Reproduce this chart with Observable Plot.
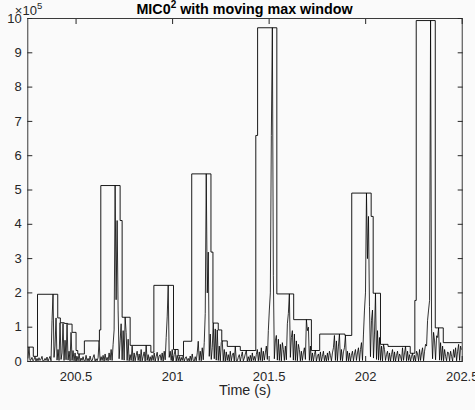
<!DOCTYPE html>
<html>
<head>
<meta charset="utf-8">
<script src="https://cdn.jsdelivr.net/npm/d3@7"></script>
<script src="https://cdn.jsdelivr.net/npm/@observablehq/plot@0.6"></script>
<style>
html, body { margin: 0; padding: 0; background: #fafafa; }
</style>
</head>
<body>
<div id="chart"></div>
<script>
// ---- texts ----
const titleMain = "MIC0";
const titleSup = "2";
const titleRest = " with moving max window";
const xLabel = "Time (s)";
const yExponentBase = "×10";
const yExponent = "5";

// ---- ticks ----
const xTicks = [200.5, 201, 201.5, 202, 202.5];
const yTicks = [0, 1, 2, 3, 4, 5, 6, 7, 8, 9, 10];

// ---- MIC0^2 samples (uniform sampling), values in units of 10^3 ----
const sampleStart = 200.251;
const sampleStep = 0.005187;
const micSquared = [
  10, 42, 3, 5, 12, 2, 6, 14, 1, 9,
  2, 11, 3, 7, 15, 1, 2, 9, 3, 13,
  1, 8, 15, 2, 120, 196, 12, 45, 127, 4,
  35, 3, 113, 6, 25, 111, 3, 62, 5, 109,
  4, 30, 2, 85, 3, 32, 2, 25, 1, 15,
  2, 22, 1, 10, 3, 14, 2, 1, 18, 2,
  9, 1, 16, 3, 2, 12, 20, 1, 8, 2,
  11, 60, 2, 14, 3, 18, 1, 22, 3, 12,
  2, 25, 4, 35, 3, 50, 92, 513, 180, 411,
  150, 8, 60, 110, 5, 90, 4, 129, 85, 3,
  65, 2, 20, 3, 45, 1, 25, 2, 18, 30,
  3, 22, 1, 35, 2, 15, 28, 1, 47, 3,
  20, 1, 14, 2, 18, 3, 25, 1, 15, 27,
  2, 16, 20, 3, 25, 1, 30, 5, 70, 130,
  222, 12, 30, 3, 35, 2, 20, 35, 1, 18,
  2, 15, 1, 12, 3, 17, 1, 10, 14, 2,
  9, 1, 16, 2, 22, 3, 1, 14, 2, 25,
  59, 3, 30, 2, 40, 5, 55, 140, 547, 200,
  319, 15, 80, 6, 40, 112, 8, 95, 4, 92,
  3, 45, 2, 55, 60, 2, 35, 1, 28, 3,
  20, 1, 30, 2, 18, 25, 1, 44, 3, 2,
  12, 20, 1, 15, 28, 2, 10, 22, 32, 1,
  14, 2, 18, 1, 25, 3, 15, 2, 20, 35,
  2, 28, 3, 40, 2, 30, 4, 25, 45, 6,
  90, 150, 200, 659, 973, 250, 8, 60, 76, 4,
  65, 3, 50, 2, 55, 35, 3, 45, 5, 110,
  140, 197, 12, 70, 90, 4, 80, 3, 60, 2,
  50, 35, 2, 30, 3, 25, 40, 6, 122, 90,
  100, 3, 45, 2, 25, 1, 20, 32, 1, 15,
  22, 2, 28, 1, 15, 30, 2, 18, 1, 25,
  3, 30, 18, 2, 25, 40, 76, 3, 60, 2,
  45, 80, 3, 35, 2, 28, 40, 76, 2, 30,
  2, 25, 1, 18, 30, 2, 22, 35, 3, 25,
  40, 2, 35, 55, 3, 80, 150, 200, 491, 300,
  423, 160, 14, 120, 150, 10, 80, 199, 6, 90,
  4, 70, 3, 45, 2, 50, 35, 3, 20, 30,
  2, 25, 1, 20, 35, 2, 28, 1, 18, 30,
  1, 22, 15, 2, 40, 3, 25, 44, 2, 30,
  3, 20, 1, 15, 24, 2, 18, 1, 30, 22,
  2, 35, 3, 25, 40, 2, 30, 50, 45, 120,
  150, 178, 994, 95, 8, 85, 60, 5, 75, 70,
  98, 4, 55, 3, 45, 2, 35, 15, 2, 28,
  25, 2, 30, 15, 1, 35, 12, 40, 2, 30,
  50, 3, 45, 35
];

// ---- moving max envelope (step breakpoints), values in units of 10^5 ----
const envTime = [200.25, 200.2785, 200.3003, 200.4051, 200.4186, 200.4393, 200.4570, 200.4793, 200.5000, 200.5088,
  200.5430, 200.6209, 200.6281, 200.7282, 200.7386, 200.7801, 200.8874, 200.9030, 201.0047, 201.0290,
  201.0565, 201.0991, 201.1987, 201.2090, 201.2365, 201.2547, 201.2832, 201.3506, 201.4310, 201.4403,
  201.5399, 201.6271, 201.7189, 201.7619, 201.8926, 201.9279, 202.0285, 202.0389, 202.0768, 202.1157,
  202.2308, 202.2547, 202.2619, 202.3605, 202.4020, 202.5];
const envValue = [0.42, 0.15, 1.96, 1.27, 1.13, 1.11, 1.09, 0.85, 0.32, 0.22,
  0.60, 0.92, 5.13, 4.11, 1.29, 0.47, 0.27, 2.22, 0.35, 0.17,
  0.59, 5.47, 3.19, 1.12, 0.92, 0.60, 0.44, 0.32, 6.59, 9.73,
  1.97, 1.22, 0.32, 0.80, 0.76, 4.91, 4.23, 1.99, 0.50, 0.44,
  0.24, 1.78, 9.94, 0.98, 0.55, 0.55];

// ---- tables for the library ----
const signal = micSquared.map((v, i) => ({t: sampleStart + i * sampleStep, v: v / 100}));
const envelope = envTime.map((t, i) => ({t, v: envValue[i]}));

const font = "'Liberation Sans', Arial, Helvetica, sans-serif";
const axisColor = "#262626";

const plot = Plot.plot({
  width: 475,
  height: 410,
  marginLeft: 27.3,
  marginRight: 13.3,
  marginTop: 18,
  marginBottom: 49,
  style: {background: "#fafafa", fontFamily: font, fontSize: "13px", color: axisColor},
  x: {domain: [200.25, 202.5], label: null},
  y: {domain: [0, 10], label: null},
  marks: [
    Plot.line(signal, {x: "t", y: "v", stroke: "#000", strokeWidth: 0.8, clip: true}),
    Plot.line(envelope, {x: "t", y: "v", curve: "step-after", stroke: "#000", strokeWidth: 0.9, clip: true}),
    Plot.frame({stroke: axisColor, strokeWidth: 0.9}),
    Plot.axisX(xTicks, {anchor: "bottom", tickSize: -5, fill: "none", label: null, stroke: axisColor}),
    Plot.axisX(xTicks, {anchor: "top", tickSize: -5, fill: "none", label: null, stroke: axisColor}),
    Plot.axisY(yTicks, {anchor: "left", tickSize: -5, fill: "none", label: null, stroke: axisColor}),
    Plot.axisY(yTicks, {anchor: "right", tickSize: -5, fill: "none", label: null, stroke: axisColor}),
    Plot.axisX(xTicks, {anchor: "bottom", tickSize: 0, tickPadding: 10, tickFormat: d => String(d), label: null, fill: axisColor}),
    Plot.axisY(yTicks, {anchor: "left", tickSize: 0, tickPadding: 6, tickFormat: d => String(d), label: null, fill: axisColor}),
    Plot.text([xLabel], {text: d => d, frameAnchor: "bottom", dy: 33.5, fontSize: 14.3, fill: axisColor})
  ]
});

const svg = d3.select(plot);
const title = svg.append("text")
  .attr("x", 244.5).attr("y", 13.6)
  .attr("text-anchor", "middle")
  .attr("font-family", font)
  .attr("font-weight", "bold")
  .attr("font-size", 14.3)
  .attr("fill", "#000");
title.append("tspan").text(titleMain);
title.append("tspan").attr("dy", -5.5).attr("font-size", 10).text(titleSup);
title.append("tspan").attr("dy", 5.5).text(titleRest);

const expo = svg.append("text")
  .attr("x", 28.5).attr("y", 15)
  .attr("font-family", font)
  .attr("font-size", 13)
  .attr("fill", axisColor);
expo.append("tspan").text(yExponentBase);
expo.append("tspan").attr("dy", -6.5).attr("font-size", 9.5).text(yExponent);

document.getElementById("chart").appendChild(plot);
</script>
</body>
</html>
